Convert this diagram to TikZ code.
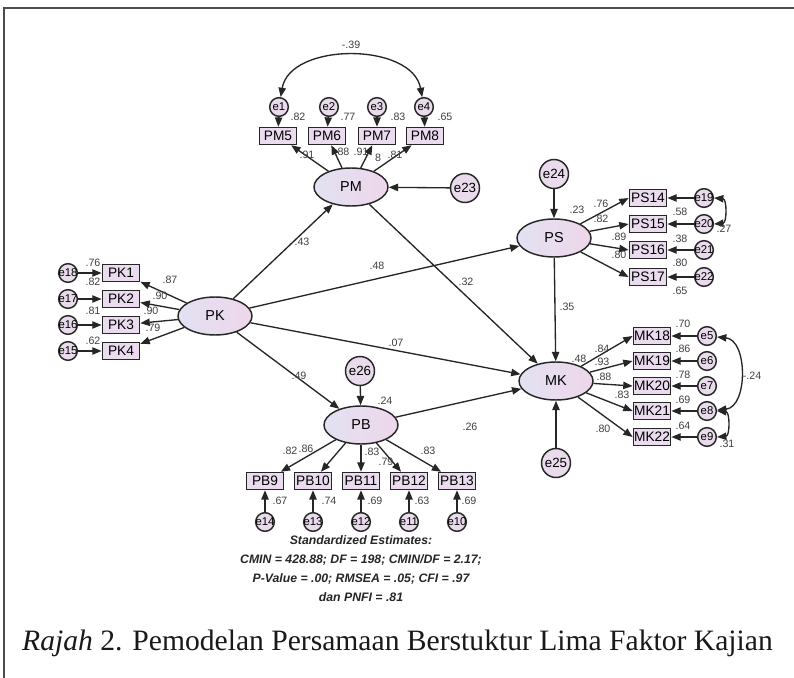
\documentclass[tikz,border=0pt]{standalone}
\usepackage{fontspec}
\setmainfont{Liberation Serif}
\newfontfamily\arial{Liberation Sans}
\usetikzlibrary{arrows.meta,shapes.geometric}
\definecolor{boxfill}{HTML}{EADCEE}
\definecolor{ellL}{HTML}{E2E2F2}
\definecolor{ellR}{HTML}{EED6EA}
\definecolor{errfill}{HTML}{E9DBEC}
\newcommand\mk[1]{\makebox[0pt]{#1}}
\begin{document}
\begin{tikzpicture}[x=0.75pt,y=-0.75pt,
  ind/.style={draw=black!85,line width=1.1pt,fill=boxfill,minimum width=28pt,minimum height=12.75pt,inner sep=0.5pt,font=\arial\fontsize{10.3}{11}\selectfont},
  lat/.style={ellipse,draw=black!85,line width=1.1pt,left color=ellL,right color=ellR,minimum width=55.5pt,minimum height=28.5pt,inner sep=0pt,font=\arial\fontsize{10.8}{11}\selectfont},
  err/.style={circle,draw=black!85,line width=1.1pt,fill=errfill,minimum size=14pt,inner sep=0pt,font=\arial\fontsize{8.5}{9}\selectfont},
  berr/.style={circle,draw=black!85,line width=1.1pt,fill=errfill,minimum size=21.75pt,inner sep=0pt,font=\arial\fontsize{10}{10}\selectfont},
  coef/.style={font=\arial\fontsize{8}{8}\selectfont,text=black!75,inner sep=0pt},
  reg/.style={draw=black!85,line width=1pt,-{Triangle[length=7pt,width=5.5pt]}},
  cov/.style={draw=black!85,line width=1pt,{Triangle[length=7pt,width=5.5pt]}-{Triangle[length=7pt,width=5.5pt]}}]
\useasboundingbox (0,0) rectangle (794,678);
\fill[white] (0,0) rectangle (794,678);
\draw[line width=1.4pt,black!70] (794,8) -- (4,8) -- (4,678);

% ---------- PM ----------
\node[lat] (PM) at (351,187) {PM};
\node[ind] (PM5) at (278,136) {PM5};
\node[ind] (PM6) at (327,136) {PM6};
\node[ind] (PM7) at (377,136) {PM7};
\node[ind] (PM8) at (425,136) {PM8};
\node[err] (e1) at (279,107) {\mk{e1}};
\node[err] (e2) at (329,107) {\mk{e2}};
\node[err] (e3) at (377,107) {\mk{e3}};
\node[err] (e4) at (424,107) {\mk{e4}};
\node[berr] (e23) at (465,188) {\mk{e23}};
\foreach \e/\b in {e1/PM5,e2/PM6,e3/PM7,e4/PM8}{\draw[reg] (\e) -- (\b);}
\foreach \b in {PM5,PM6,PM7,PM8}{\draw[reg] (PM) -- (\b);}
\draw[reg] (e23) -- (PM);
\draw[cov] (e1) .. controls (290,42) and (412,42) .. (e4);
\node[coef] (c01) at (351,45) {-.39};
\node[coef] (c02) at (298,117) {.82};
\node[coef] (c03) at (348,117) {.77};
\node[coef] (c04) at (398,117) {.83};
\node[coef] (c05) at (445,117) {.65};
\node[coef] (c06) at (307,155) {.91};
\node[coef] (c07) at (342,152) {.88};
\node[coef] (c08) at (361,152) {.91};
\node[coef] (c09) at (378,158) {8};
\node[coef] (c10) at (395,155) {.81};

% ---------- PS ----------
\node[lat] (PS) at (554,238) {PS};
\node[berr] (e24) at (554,174) {\mk{e24}};
\node[ind] (PS14) at (648,198) {PS14};
\node[ind] (PS15) at (648,224) {PS15};
\node[ind] (PS16) at (648,250) {PS16};
\node[ind] (PS17) at (648,277) {PS17};
\node[err] (e19) at (704,198) {\mk{e19}};
\node[err] (e20) at (704,224) {\mk{e20}};
\node[err] (e21) at (704,250) {\mk{e21}};
\node[err] (e22) at (704,277) {\mk{e22}};
\draw[reg] (e24) -- (PS);
\foreach \b in {PS14,PS15,PS16,PS17}{\draw[reg] (PS) -- (\b.west);}
\foreach \e/\b in {e19/PS14,e20/PS15,e21/PS16,e22/PS17}{\draw[reg] (\e) -- (\b);}
\draw[cov] (e19.east) .. controls (727,199) and (727,223) .. (e20.east);
\node[coef] (c11) at (577,210) {.23};
\node[coef] (c12) at (601,204) {.76};
\node[coef] (c13) at (601,219) {.82};
\node[coef] (c14) at (619,237) {.89};
\node[coef] (c15) at (619,255) {.80};
\node[coef] (c16) at (680,212) {.58};
\node[coef] (c17) at (680,239) {.38};
\node[coef] (c18) at (680,263) {.80};
\node[coef] (c19) at (680,291) {.65};
\node[coef] (c20) at (724,229) {.27};

% ---------- MK ----------
\node[lat] (MK) at (556,381) {MK};
\node[berr] (e25) at (556,463) {\mk{e25}};
\node[ind] (MK18) at (652,336) {MK18};
\node[ind] (MK19) at (652,361) {MK19};
\node[ind] (MK20) at (652,386) {MK20};
\node[ind] (MK21) at (652,411) {MK21};
\node[ind] (MK22) at (652,437) {MK22};
\node[err] (e5) at (707,336) {\mk{e5}};
\node[err] (e6) at (707,361) {\mk{e6}};
\node[err] (e7) at (707,386) {\mk{e7}};
\node[err] (e8) at (707,411) {\mk{e8}};
\node[err] (e9) at (707,437) {\mk{e9}};
\draw[reg] (e25) -- (MK);
\draw[reg] (PS) -- (MK);
\foreach \b in {MK18,MK19,MK20,MK21,MK22}{\draw[reg] (MK) -- (\b.west);}
\foreach \e/\b in {e5/MK18,e6/MK19,e7/MK20,e8/MK21,e9/MK22}{\draw[reg] (\e) -- (\b);}
\draw[cov] (e5) .. controls (748,340) and (748,407) .. (e8);
\draw[cov] (e8.east) .. controls (730,412) and (730,436) .. (e9.east);
\node[coef] (c21) at (567,307) {.35};
\node[coef] (c22) at (579,359) {.48};
\node[coef] (c23) at (602,349) {.84};
\node[coef] (c24) at (602,362) {.93};
\node[coef] (c25) at (604,377) {.88};
\node[coef] (c26) at (622,395) {.83};
\node[coef] (c27) at (603,429) {.80};
\node[coef] (c28) at (683,324) {.70};
\node[coef] (c29) at (683,349) {.86};
\node[coef] (c30) at (683,375) {.78};
\node[coef] (c31) at (683,400) {.69};
\node[coef] (c32) at (683,426) {.64};
\node[coef] (c33) at (752,376) {-.24};
\node[coef] (c34) at (727,444) {.31};

% ---------- PK ----------
\node[lat] (PK) at (215,316) {PK};
\node[ind] (PK1) at (121,273) {PK1};
\node[ind] (PK2) at (121,299) {PK2};
\node[ind] (PK3) at (121,325) {PK3};
\node[ind] (PK4) at (121,351) {PK4};
\node[err] (e18) at (68,273) {\mk{e18}};
\node[err] (e17) at (68,299) {\mk{e17}};
\node[err] (e16) at (68,325) {\mk{e16}};
\node[err] (e15) at (68,351) {\mk{e15}};
\foreach \b in {PK1,PK2,PK3,PK4}{\draw[reg] (PK) -- (\b);}
\foreach \e/\b in {e18/PK1,e17/PK2,e16/PK3,e15/PK4}{\draw[reg] (\e) -- (\b);}
\node[coef] (c35) at (93,263) {.76};
\node[coef] (c36) at (93,282) {.82};
\node[coef] (c37) at (93,311) {.81};
\node[coef] (c38) at (93,341) {.62};
\node[coef] (c39) at (170,280) {.87};
\node[coef] (c40) at (160,296) {.90};
\node[coef] (c41) at (151,311) {.90};
\node[coef] (c42) at (153,328) {.79};

% ---------- PB ----------
\node[lat] (PB) at (361,425) {PB};
\node[berr] (e26) at (360,371) {\mk{e26}};
\node[ind] (PB9) at (265,481) {PB9};
\node[ind] (PB10) at (313,481) {PB10};
\node[ind] (PB11) at (361,481) {PB11};
\node[ind] (PB12) at (409,481) {PB12};
\node[ind] (PB13) at (457,481) {PB13};
\node[err] (e14) at (265,522) {\mk{e14}};
\node[err] (e13) at (313,522) {\mk{e13}};
\node[err] (e12) at (361,522) {\mk{e12}};
\node[err] (e11) at (409,522) {\mk{e11}};
\node[err] (e10) at (457,522) {\mk{e10}};
\draw[reg] (e26) -- (PB);
\foreach \b in {PB9,PB10,PB11,PB12,PB13}{\draw[reg] (PB) -- (\b);}
\foreach \e/\b in {e14/PB9,e13/PB10,e12/PB11,e11/PB12,e10/PB13}{\draw[reg] (\e) -- (\b);}
\node[coef] (c43) at (290,451) {.82};
\node[coef] (c44) at (306,449) {.86};
\node[coef] (c45) at (372,452) {.83};
\node[coef] (c46) at (386,462) {.79};
\node[coef] (c47) at (428,451) {.83};
\node[coef] (c48) at (280,501) {.67};
\node[coef] (c49) at (329,501) {.74};
\node[coef] (c50) at (375,501) {.69};
\node[coef] (c51) at (422,501) {.63};
\node[coef] (c52) at (469,501) {.69};
\node[coef] (c53) at (385,401) {.24};

% ---------- structural ----------
\draw[reg] (PK) -- (PM);
\draw[reg] (PK) -- (PS);
\draw[reg] (PK) -- (MK);
\draw[reg] (PK) -- (PB);
\draw[reg] (PM) -- (MK);
\draw[reg] (PB) -- (MK);
\node[coef] (c54) at (302,242) {.43};
\node[coef] (c55) at (377,266) {.48};
\node[coef] (c56) at (396,343) {.07};
\node[coef] (c57) at (299,376) {.49};
\node[coef] (c58) at (466,282) {.32};
\node[coef] (c59) at (470,427) {.26};

% ---------- texts ----------
\node[align=center,inner sep=0pt,font=\arial\bfseries\itshape\fontsize{9.2}{14.25}\selectfont,text=black!85] (stats) at (361,569)
  {Standardized Estimates:\\CMIN = 428.88; DF = 198; CMIN/DF = 2.17;\\P-Value = .00; RMSEA = .05; CFI = .97\\dan PNFI = .81};
\node[anchor=base,inner sep=0pt,font=\fontsize{22.2}{24}\selectfont,text=black!90] (cap) at (397.5,650)
  {\textit{Rajah} 2. Pemodelan Persamaan Berstuktur Lima Faktor Kajian};
\end{tikzpicture}
\end{document}
